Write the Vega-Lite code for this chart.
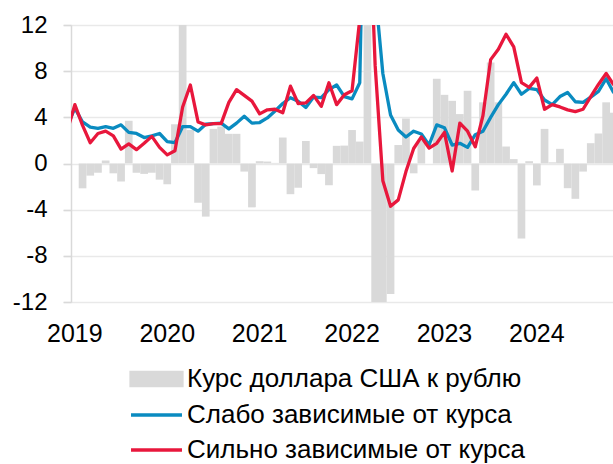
{
  "$schema": "https://vega.github.io/schema/vega-lite/v6.json",
  "width": 542,
  "height": 277,
  "autosize": {"type": "none"},
  "padding": {"left": 71, "top": 25, "right": 0, "bottom": 162},
  "background": "white",
  "config": {
    "view": {"stroke": null},
    "font": "Liberation Sans",
    "axis": {"labelFont": "Liberation Sans", "labelFontSize": 24, "labelColor": "#000000"}
  },
  "data": {
    "values": [
      {"m": "2018-12", "weak": 3.2, "strong": 2.8},
      {"m": "2019-01", "usd": 0, "weak": 4.8, "strong": 5.1},
      {"m": "2019-02", "usd": -2.15, "weak": 3.6, "strong": 3.3},
      {"m": "2019-03", "usd": -1.05, "weak": 3.15, "strong": 1.8},
      {"m": "2019-04", "usd": -0.8, "weak": 3.05, "strong": 2.6},
      {"m": "2019-05", "usd": 0.26, "weak": 3.2, "strong": 2.8},
      {"m": "2019-06", "usd": -0.85, "weak": 3.05, "strong": 2.4},
      {"m": "2019-07", "usd": -1.56, "weak": 3.35, "strong": 1.25},
      {"m": "2019-08", "usd": 3.7, "weak": 2.7, "strong": 1.7},
      {"m": "2019-09", "usd": -0.8, "weak": 2.6, "strong": 1.2},
      {"m": "2019-10", "usd": -0.9, "weak": 2.25, "strong": 1.75},
      {"m": "2019-11", "usd": -0.8, "weak": 2.4, "strong": 2.35},
      {"m": "2019-12", "usd": -1.4, "weak": 2.6, "strong": 1.4},
      {"m": "2020-01", "usd": -1.8, "weak": 1.9, "strong": 0.75},
      {"m": "2020-02", "usd": 3.4, "weak": 1.8, "strong": 1.1},
      {"m": "2020-03", "usd": 15, "weak": 3.2, "strong": 4.9},
      {"m": "2020-04", "usd": 2.9, "weak": 3.2, "strong": 6.8},
      {"m": "2020-05", "usd": -3.4, "weak": 2.8, "strong": 3.6},
      {"m": "2020-06", "usd": -4.6, "weak": 3.4, "strong": 3.35},
      {"m": "2020-07", "usd": 3.0, "weak": 3.45, "strong": 3.45},
      {"m": "2020-08", "usd": 3.2, "weak": 3.5, "strong": 3.45},
      {"m": "2020-09", "usd": 2.57, "weak": 3.0, "strong": 5.3},
      {"m": "2020-10", "usd": 2.57, "weak": 3.5, "strong": 6.4},
      {"m": "2020-11", "usd": -0.7, "weak": 4.1, "strong": 5.9},
      {"m": "2020-12", "usd": -3.8, "weak": 3.5, "strong": 5.4},
      {"m": "2021-01", "usd": 0.2, "weak": 3.55, "strong": 4.3},
      {"m": "2021-02", "usd": 0.17, "weak": 3.95, "strong": 4.65},
      {"m": "2021-03", "usd": 0.05, "weak": 4.55, "strong": 4.7},
      {"m": "2021-04", "usd": 2.25, "weak": 5.2, "strong": 4.4},
      {"m": "2021-05", "usd": -2.66, "weak": 5.7, "strong": 6.7},
      {"m": "2021-06", "usd": -2.1, "weak": 5.4, "strong": 5.2},
      {"m": "2021-07", "usd": 1.95, "weak": 4.85, "strong": 5.25},
      {"m": "2021-08", "usd": -0.4, "weak": 5.75, "strong": 5.9},
      {"m": "2021-09", "usd": -0.92, "weak": 5.7, "strong": 4.95},
      {"m": "2021-10", "usd": -1.88, "weak": 6.4, "strong": 7.0},
      {"m": "2021-11", "usd": 1.53, "weak": 6.8, "strong": 5.1},
      {"m": "2021-12", "usd": 1.55, "weak": 5.8, "strong": 5.95},
      {"m": "2022-01", "usd": 2.9, "weak": 5.6, "strong": 6.3},
      {"m": "2022-02", "usd": 1.9, "weak": 7.0, "strong": 12.5},
      {"m": "2022-03", "usd": 34, "weak": 40, "strong": 26},
      {"m": "2022-04", "usd": -24.6, "weak": 15, "strong": 8.5},
      {"m": "2022-05", "usd": -18, "weak": 7.8, "strong": -1.5},
      {"m": "2022-06", "usd": -11.3, "weak": 4.2, "strong": -3.7},
      {"m": "2022-07", "usd": 1.6, "weak": 2.9, "strong": -3.15},
      {"m": "2022-08", "usd": 3.9, "weak": 2.3, "strong": -0.7},
      {"m": "2022-09", "usd": -0.85, "weak": 2.8, "strong": 1.3},
      {"m": "2022-10", "usd": 2.0, "weak": 2.55, "strong": 2.3},
      {"m": "2022-11", "usd": 0, "weak": 1.6, "strong": 1.33},
      {"m": "2022-12", "usd": 7.34, "weak": 3.35, "strong": 1.75},
      {"m": "2023-01", "usd": 5.95, "weak": 3.1, "strong": 2.7},
      {"m": "2023-02", "usd": 5.43, "weak": 1.6, "strong": -0.65},
      {"m": "2023-03", "usd": 4.28, "weak": 1.75, "strong": 3.5},
      {"m": "2023-04", "usd": 6.3, "weak": 1.4, "strong": 2.8},
      {"m": "2023-05", "usd": -2.34, "weak": 2.5, "strong": 1.45},
      {"m": "2023-06", "usd": 5.3, "weak": 2.8, "strong": 4.15},
      {"m": "2023-07", "usd": 8.75, "weak": 4.0, "strong": 9.0},
      {"m": "2023-08", "usd": 5.3, "weak": 5.1, "strong": 9.9},
      {"m": "2023-09", "usd": 1.47, "weak": 6.0, "strong": 11.2},
      {"m": "2023-10", "usd": 0.38, "weak": 7.0, "strong": 10.1},
      {"m": "2023-11", "usd": -6.5, "weak": 6.0, "strong": 7.0},
      {"m": "2023-12", "usd": 0.2, "weak": 6.5, "strong": 6.6},
      {"m": "2024-01", "usd": -1.9, "weak": 6.4, "strong": 7.4},
      {"m": "2024-02", "usd": 3.0, "weak": 5.5, "strong": 4.7},
      {"m": "2024-03", "usd": 0.1, "weak": 5.1, "strong": 5.1},
      {"m": "2024-04", "usd": 1.27, "weak": 5.8, "strong": 4.9},
      {"m": "2024-05", "usd": -2.14, "weak": 6.15, "strong": 4.65},
      {"m": "2024-06", "usd": -3.06, "weak": 5.35, "strong": 4.5},
      {"m": "2024-07", "usd": -0.7, "weak": 5.3, "strong": 4.7},
      {"m": "2024-08", "usd": 1.76, "weak": 5.75, "strong": 5.8},
      {"m": "2024-09", "usd": 2.6, "weak": 6.25, "strong": 6.85},
      {"m": "2024-10", "usd": 5.3, "weak": 7.35, "strong": 7.8},
      {"m": "2024-11", "usd": 4.4, "weak": 6.1, "strong": 6.8}
    ]
  },
  "encoding": {
    "x": {
      "field": "m",
      "type": "ordinal",
      "sort": "ascending",
      "title": null,
      "scale": {"type": "band", "paddingInner": 0, "paddingOuter": 0, "range": [-7.7, 546.7]},
      "axis": {
        "values": ["2019-01", "2020-01", "2021-01", "2022-01", "2023-01", "2024-01"],
        "labelExpr": "slice(datum.value, 0, 4)",
        "domain": false,
        "ticks": false,
        "grid": false,
        "labelAngle": 0,
        "labelPadding": 19,
        "labelBaseline": "top",
        "labelOverlap": false,
        "labelFontSize": 25,
        "labelFont": "Liberation Sans",
        "labelColor": "#000000"
      }
    }
  },
  "layer": [
    {
      "mark": {"type": "bar", "clip": true},
      "encoding": {
        "y": {
          "field": "usd",
          "type": "quantitative",
          "title": null,
          "scale": {"domain": [-12, 12], "nice": false, "zero": false},
          "axis": {
            "values": [-12, -8, -4, 0, 4, 8, 12],
            "labelExpr": "'' + datum.value",
            "domain": true,
            "domainColor": "#d9d9d9",
            "domainWidth": 1.5,
            "ticks": true,
            "tickSize": 8,
            "tickColor": "#d9d9d9",
            "tickWidth": 1.5,
            "grid": true,
            "gridColor": "#e9e9e9",
            "gridWidth": 1.5,
            "labelPadding": 16,
            "labelFontSize": 24,
            "labelFont": "Liberation Sans",
            "labelColor": "#000000"
          }
        },
        "color": {
          "datum": "Курс доллара США к рублю",
          "type": "nominal",
          "scale": {
            "domain": ["Курс доллара США к рублю", "Слабо зависимые от курса", "Сильно зависимые от курса"],
            "range": ["#d9d9d9", "#0a8bc0", "#e8173c"]
          },
          "legend": {
            "orient": "none",
            "legendX": 70.5,
            "legendY": 339,
            "title": null,
            "direction": "vertical",
            "labelFont": "Liberation Sans",
            "labelFontSize": 26,
            "labelColor": "#000000",
            "labelLimit": 0,
            "symbolSize": 676,
            "labelOffset": 15.5,
            "rowPadding": 7,
            "symbolType": "square",
            "encode": {
              "symbols": {
                "update": {
                  "shape": {"signal": "datum.value === 'Курс доллара США к рублю' ? 'M-1.96,-0.5H1.96V0.5H-1.96Z' : 'M-1.96,0H1.96'"},
                  "fill": {"signal": "datum.value === 'Курс доллара США к рублю' ? '#d9d9d9' : 'transparent'"},
                  "stroke": {"signal": "datum.value === 'Курс доллара США к рублю' ? 'transparent' : (datum.value === 'Слабо зависимые от курса' ? '#0a8bc0' : '#e8173c')"},
                  "strokeWidth": {"value": 3.3},
                  "opacity": {"value": 1}
                }
              }
            }
          }
        }
      }
    },
    {
      "mark": {"type": "line", "clip": true, "strokeWidth": 3.3, "strokeJoin": "round"},
      "encoding": {
        "y": {"field": "weak", "type": "quantitative", "title": null},
        "color": {"datum": "Слабо зависимые от курса", "type": "nominal"}
      }
    },
    {
      "mark": {"type": "line", "clip": true, "strokeWidth": 3.3, "strokeJoin": "round"},
      "encoding": {
        "y": {"field": "strong", "type": "quantitative", "title": null},
        "color": {"datum": "Сильно зависимые от курса", "type": "nominal"}
      }
    }
  ]
}
